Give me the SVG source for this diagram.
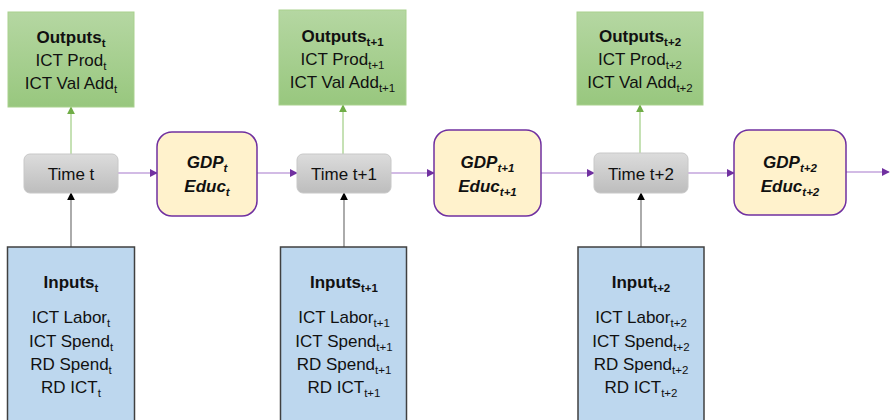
<svg xmlns="http://www.w3.org/2000/svg" width="890" height="420" viewBox="0 0 890 420">
<defs>
<linearGradient id="gGreen" x1="0" y1="0" x2="0" y2="1"><stop offset="0" stop-color="#B5D7A2"/><stop offset="1" stop-color="#98C77E"/></linearGradient>
<linearGradient id="gGray" x1="0" y1="0" x2="0" y2="1"><stop offset="0" stop-color="#DCDCDC"/><stop offset="1" stop-color="#BDBDBD"/></linearGradient>
<marker id="mP" viewBox="0 0 10 10" refX="9" refY="5" markerWidth="8" markerHeight="8" markerUnits="userSpaceOnUse" orient="auto"><path d="M0,0 L10,5 L0,10 z" fill="#7030A0"/></marker>
<marker id="mG" viewBox="0 0 10 10" refX="9" refY="5" markerWidth="8" markerHeight="8" markerUnits="userSpaceOnUse" orient="auto"><path d="M0,0 L10,5 L0,10 z" fill="#70AD47"/></marker>
<marker id="mK" viewBox="0 0 10 10" refX="9" refY="5" markerWidth="8" markerHeight="8" markerUnits="userSpaceOnUse" orient="auto"><path d="M0,0 L10,5 L0,10 z" fill="#000"/></marker>
</defs>
<style>
text{font-family:"Liberation Sans",Arial,sans-serif;fill:#111;text-anchor:middle;font-size:17px}
.b{font-weight:bold}
.bi{font-weight:bold;font-style:italic}
.tm{font-size:17px}
.s{font-size:11.5px}
.out{fill:url(#gGreen);stroke:#A9D18E;stroke-width:1}
.time{fill:url(#gGray);stroke:#C8C8C8;stroke-width:1}
.gdp{fill:#FFF2CC;stroke:#7030A0;stroke-width:1.5}
.inp{fill:#BDD7EE;stroke:#404040;stroke-width:1.5}
.cp{stroke:#A678CC;stroke-width:1.2;fill:none;marker-end:url(#mP)}
.cg{stroke:#8CC36A;stroke-width:1;fill:none;marker-end:url(#mG)}
.ck{stroke:#7F7F7F;stroke-width:1.3;fill:none;marker-end:url(#mK)}
</style>
<g id="connectors">
<line class="cp" x1="118" y1="173" x2="157" y2="173"/>
<line class="cp" x1="257" y1="173" x2="297" y2="173"/>
<line class="cp" x1="391" y1="173" x2="434" y2="173"/>
<line class="cp" x1="541" y1="173" x2="594" y2="173"/>
<line class="cp" x1="688" y1="173" x2="734" y2="173"/>
<line class="cp" x1="846" y1="172" x2="889" y2="172"/>
<line class="cg" x1="71" y1="154" x2="71" y2="107"/>
<line class="cg" x1="343" y1="154" x2="343" y2="105"/>
<line class="cg" x1="640" y1="153" x2="640" y2="105"/>
<line class="ck" x1="71" y1="247" x2="71" y2="193"/>
<line class="ck" x1="344" y1="247" x2="344" y2="193"/>
<line class="ck" x1="641" y1="247" x2="641" y2="193"/>
</g>
<g id="out1">
<rect class="out" x="8" y="12" width="126" height="95"/>
<text x="71" y="43" class="b">Outputs<tspan class="s" dy="4">t</tspan></text>
<text x="71" y="66">ICT Prod<tspan class="s" dy="4">t</tspan></text>
<text x="71" y="89">ICT Val Add<tspan class="s" dy="4">t</tspan></text>
</g>
<g id="out2">
<rect class="out" x="279" y="10" width="127" height="95"/>
<text x="342.5" y="42" class="b">Outputs<tspan class="s" dy="4">t+1</tspan></text>
<text x="342.5" y="65">ICT Prod<tspan class="s" dy="4">t+1</tspan></text>
<text x="342.5" y="88">ICT Val Add<tspan class="s" dy="4">t+1</tspan></text>
</g>
<g id="out3">
<rect class="out" x="577" y="12" width="126" height="93"/>
<text x="640" y="42" class="b">Outputs<tspan class="s" dy="4">t+2</tspan></text>
<text x="640" y="65">ICT Prod<tspan class="s" dy="4">t+2</tspan></text>
<text x="640" y="88">ICT Val Add<tspan class="s" dy="4">t+2</tspan></text>
</g>
<g id="time1">
<rect class="time" x="24" y="154" width="94" height="39" rx="6"/>
<text x="71" y="180" class="tm">Time t</text>
</g>
<g id="time2">
<rect class="time" x="297" y="154" width="94" height="39" rx="6"/>
<text x="344" y="180" class="tm">Time t+1</text>
</g>
<g id="time3">
<rect class="time" x="594" y="153" width="94" height="40" rx="6"/>
<text x="641" y="180" class="tm">Time t+2</text>
</g>
<g id="gdp1">
<rect class="gdp" x="157" y="132" width="100" height="84" rx="15"/>
<text x="207" y="168" class="bi">GDP<tspan class="s" dy="4">t</tspan></text>
<text x="207" y="192" class="bi">Educ<tspan class="s" dy="4">t</tspan></text>
</g>
<g id="gdp2">
<rect class="gdp" x="434" y="130" width="107" height="86" rx="15"/>
<text x="487.5" y="168" class="bi">GDP<tspan class="s" dy="4">t+1</tspan></text>
<text x="487.5" y="192" class="bi">Educ<tspan class="s" dy="4">t+1</tspan></text>
</g>
<g id="gdp3">
<rect class="gdp" x="734" y="130" width="112" height="85" rx="15"/>
<text x="790" y="168" class="bi">GDP<tspan class="s" dy="4">t+2</tspan></text>
<text x="790" y="192" class="bi">Educ<tspan class="s" dy="4">t+2</tspan></text>
</g>
<g id="in1">
<rect class="inp" x="7.5" y="247" width="127" height="200"/>
<text x="71" y="288" class="b">Inputs<tspan class="s" dy="4">t</tspan></text>
<text x="71" y="323">ICT Labor<tspan class="s" dy="4">t</tspan></text>
<text x="71" y="347">ICT Spend<tspan class="s" dy="4">t</tspan></text>
<text x="71" y="370">RD Spend<tspan class="s" dy="4">t</tspan></text>
<text x="71" y="393">RD ICT<tspan class="s" dy="4">t</tspan></text>
</g>
<g id="in2">
<rect class="inp" x="280.5" y="247" width="126" height="200"/>
<text x="344" y="288" class="b">Inputs<tspan class="s" dy="4">t+1</tspan></text>
<text x="344" y="323">ICT Labor<tspan class="s" dy="4">t+1</tspan></text>
<text x="344" y="347">ICT Spend<tspan class="s" dy="4">t+1</tspan></text>
<text x="344" y="370">RD Spend<tspan class="s" dy="4">t+1</tspan></text>
<text x="344" y="393">RD ICT<tspan class="s" dy="4">t+1</tspan></text>
</g>
<g id="in3">
<rect class="inp" x="578" y="247" width="126" height="200"/>
<text x="641" y="288" class="b">Input<tspan class="s" dy="4">t+2</tspan></text>
<text x="641" y="323">ICT Labor<tspan class="s" dy="4">t+2</tspan></text>
<text x="641" y="347">ICT Spend<tspan class="s" dy="4">t+2</tspan></text>
<text x="641" y="370">RD Spend<tspan class="s" dy="4">t+2</tspan></text>
<text x="641" y="393">RD ICT<tspan class="s" dy="4">t+2</tspan></text>
</g>
</svg>
